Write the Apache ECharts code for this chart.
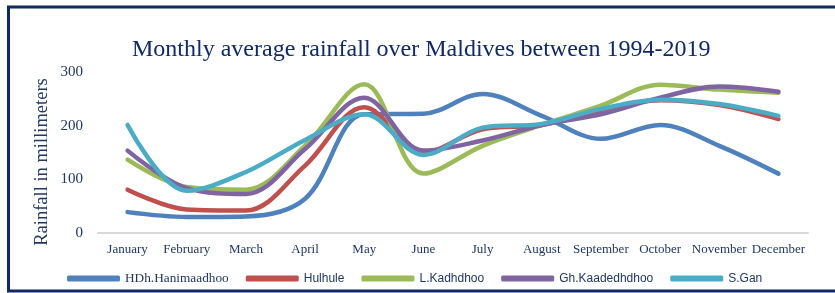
<!DOCTYPE html>
<html><head><meta charset="utf-8">
<script src="https://cdn.jsdelivr.net/npm/echarts@6/dist/echarts.min.js"></script>
<style>html,body{margin:0;padding:0;background:#fff}#c{width:835px;height:293px}</style>
</head><body><div id="c"></div>
<script>
const months = ['January','February','March','April','May','June','July','August','September','October','November','December'];
const yTicks = [0, 100, 200, 300];
const hanimaadhoo = [39, 30, 31, 64, 222, 223, 260, 219, 176, 202, 163, 111];
const hulhule     = [81, 44, 42, 126, 235, 151, 194, 202, 230, 248, 239, 213];
const kadhdhoo    = [137, 86, 81, 163, 278, 111, 163, 202, 238, 277, 268, 262];
const kaadedhdhoo = [154, 84, 73, 157, 253, 154, 173, 202, 222, 253, 274, 264];
const gan         = [202, 79, 114, 174, 222, 146, 197, 204, 232, 249, 241, 219];
const seriesNames = ['HDh.Hanimaadhoo','Hulhule','L.Kadhdhoo','Gh.Kaadedhdhoo','S.Gan'];
const seriesData = [hanimaadhoo, hulhule, kadhdhoo, kaadedhdhoo, gan];
const colors = ['#4F81BD','#C0504D','#9BBB59','#8064A2','#4BACC6'];

const navy = '#1F3864';
const chart = echarts.init(document.getElementById('c'), null, {renderer:'canvas'});
chart.setOption({
  animation: false,
  color: colors,
  title: {
    text: 'Monthly average rainfall over Maldives between 1994-2019',
    left: 127, top: 33,
    textStyle: {fontFamily: 'Liberation Serif', fontSize: 24, fontWeight: 'normal', color: '#0F2A66'}
  },
  graphic: [{
    type: 'rect', silent: true,
    shape: {x: 8.5, y: 7, width: 840, height: 284},
    style: {fill: 'none', stroke: '#0F2A66', lineWidth: 3}
  }, {
    type: 'text', silent: true,
    x: 42, y: 162, rotation: Math.PI / 2,
    style: {text: 'Rainfall in millimeters', fontFamily: 'Liberation Serif', fontSize: 18.5,
            fill: navy, align: 'center', verticalAlign: 'middle'}
  }],
  legend: {
    left: 62, top: 267,
    itemWidth: 53, itemHeight: 6, itemGap: 17,
    icon: 'roundRect',
    data: seriesNames.map((n, i) => ({
      name: n,
      textStyle: i === 0
        ? {fontFamily: 'Liberation Serif', fontSize: 13.3, color: navy}
        : {fontFamily: 'Liberation Sans', fontSize: 12, color: navy}
    })),
    textStyle: {color: navy}
  },
  grid: {left: 98, right: 27, top: 72.5, bottom: 60, containLabel: false},
  xAxis: {
    type: 'category', data: months, boundaryGap: true,
    axisLine: {lineStyle: {color: '#D9D9D9', width: 2}},
    axisTick: {show: false},
    axisLabel: {fontFamily: 'Liberation Serif', fontSize: 13, color: navy, margin: 10, interval: 0}
  },
  yAxis: {
    type: 'value', min: yTicks[0], max: yTicks[yTicks.length-1], interval: 100,
    axisLine: {show: false}, axisTick: {show: false},
    splitLine: {show: false},
    axisLabel: {fontFamily: 'Liberation Serif', fontSize: 15, color: navy, margin: 15}
  },
  series: seriesData.map((d, i) => ({
    name: seriesNames[i], type: 'line', data: d,
    smooth: 0.35, symbol: 'none',
    lineStyle: {width: 4.5, color: colors[i], cap: 'round', join: 'round'},
    itemStyle: {color: colors[i]}
  }))
});
</script></body></html>
